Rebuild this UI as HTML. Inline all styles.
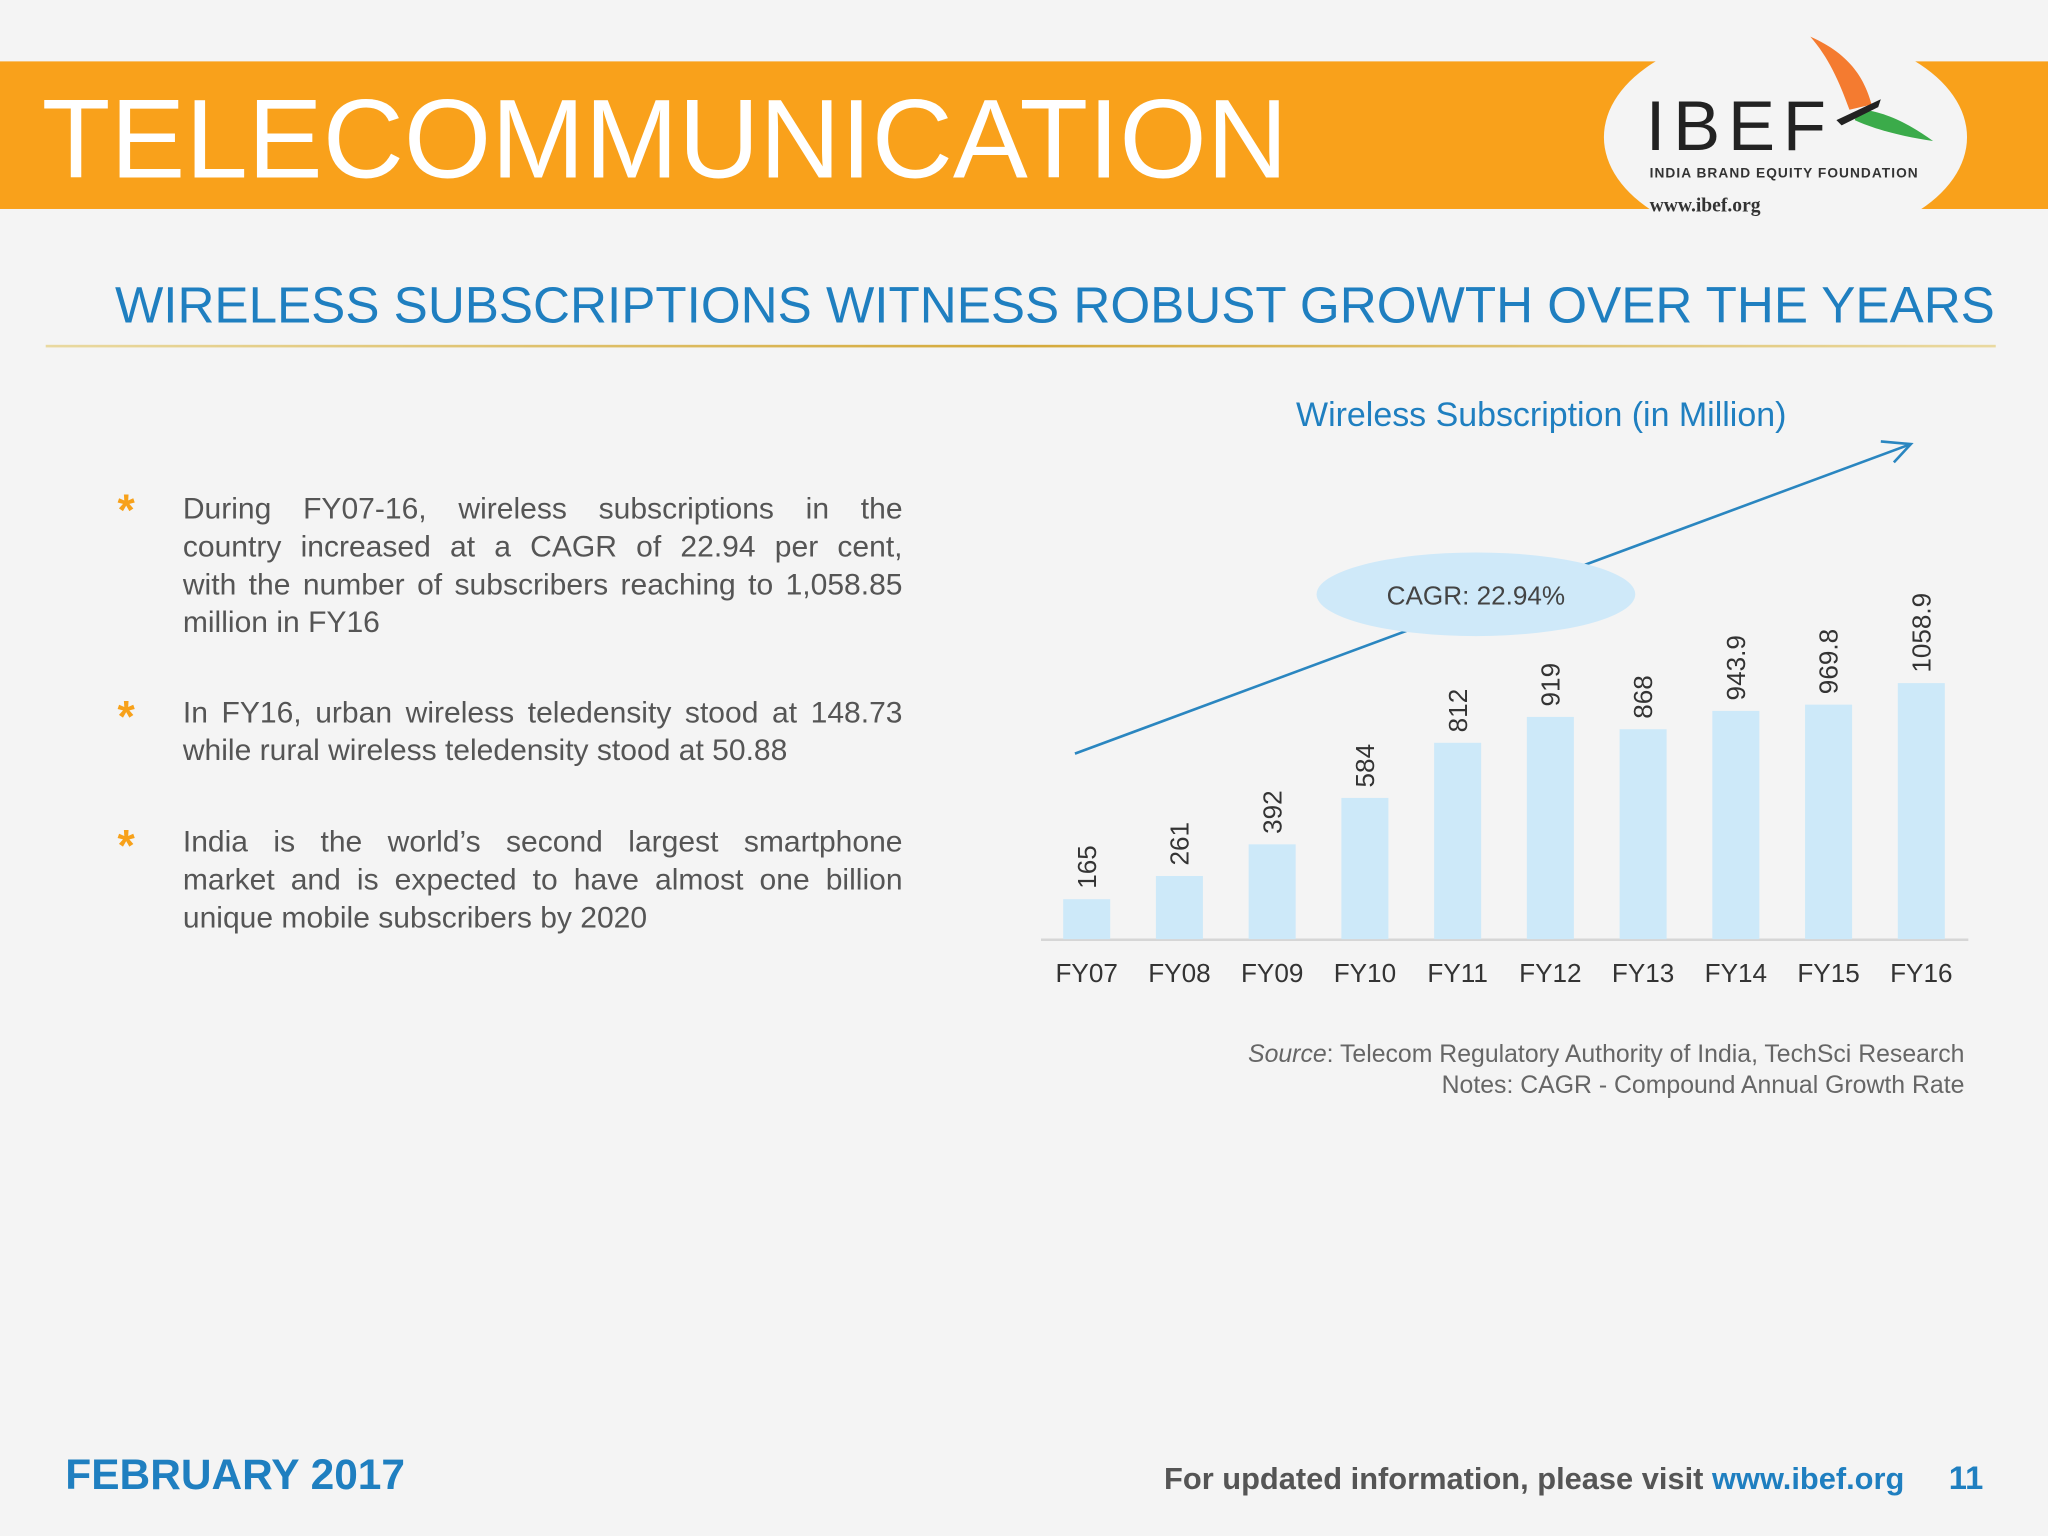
<!DOCTYPE html>
<html><head><meta charset="utf-8">
<style>
html,body{margin:0;padding:0;width:2048px;height:1536px;overflow:hidden;background:#f4f4f4;}
#stage{position:absolute;left:0;top:0;width:1568px;height:1176px;transform:scale(1.306122);transform-origin:0 0;font-family:"Liberation Sans",sans-serif;}
.abs{position:absolute;}
.bullet{position:absolute;left:140px;width:551px;font-size:23px;line-height:29px;color:#555;}
.bullet span{display:block;text-align:justify;text-align-last:justify;white-space:nowrap;}
.bullet span.last{text-align-last:left;}
.star{position:absolute;left:90px;font-size:34px;color:#f7a11a;font-weight:bold;}
</style></head>
<body>
<div id="stage">
  <div class="abs" style="left:0;top:47px;width:1568px;height:113px;background:#f9a11b;"></div>
  <div class="abs" style="left:1228px;top:22px;width:278px;height:166px;border-radius:50%;background:#f4f4f4;"></div>
  <div class="abs" style="left:32px;top:59px;font-size:86px;color:#fff;line-height:96px;">TELECOMMUNICATION</div>
  <svg class="abs" style="left:1228px;top:22px" width="280" height="166" viewBox="0 0 280 166">
    <path d="M158 6 C190 20 200 40 205 58 L188 62 C180 40 172 22 158 6Z" fill="#f47b30"/>
    <path d="M195 62 C210 62 230 70 252 86 C225 82 205 76 192 70Z" fill="#3bab4a"/>
    <path d="M178 70 L212 54 L210 60 L182 74Z" fill="#222"/>
    <text x="32" y="93" font-family="Liberation Sans" font-size="54" letter-spacing="6" fill="#222">IBEF</text>
    <text x="35" y="114" font-family="Liberation Sans" font-size="10.5" font-weight="bold" letter-spacing="0.8" fill="#333">INDIA BRAND EQUITY FOUNDATION</text>
    <text x="35" y="140" font-family="Liberation Serif" font-size="15" font-weight="bold" fill="#333">www.ibef.org</text>
  </svg>
  <div class="abs" style="left:88px;top:213px;font-size:39.2px;color:#1f7fc0;line-height:44px;white-space:nowrap;">WIRELESS SUBSCRIPTIONS WITNESS ROBUST GROWTH OVER THE YEARS</div>
  <div class="abs" style="left:35px;top:264px;width:1493px;height:2px;background:linear-gradient(90deg,#e9d9a0,#d4a93a 50%,#e9d9a0);"></div>

  <div class="star" style="top:372px">*</div>
  <div class="bullet" style="top:375px"><span>During FY07-16, wireless subscriptions in the</span><span>country increased at a CAGR of 22.94 per cent,</span><span>with the number of subscribers reaching to 1,058.85</span><span class="last">million in FY16</span></div>
  <div class="star" style="top:530px">*</div>
  <div class="bullet" style="top:531px"><span>In FY16, urban wireless teledensity stood at 148.73</span><span class="last">while rural wireless teledensity stood at 50.88</span></div>
  <div class="star" style="top:629px">*</div>
  <div class="bullet" style="top:630px"><span>India is the world’s second largest smartphone</span><span>market and is expected to have almost one billion</span><span class="last">unique mobile subscribers by 2020</span></div>

  <svg class="abs" id="chart" style="left:0;top:0" width="1568" height="1176">
    <text x="1180" y="326" text-anchor="middle" font-size="26" fill="#1f7fc0" font-family="Liberation Sans">Wireless Subscription (in Million)</text>
    <line x1="797" y1="719.5" x2="1507" y2="719.5" stroke="#d6d6d6" stroke-width="2"/>
    <g id="bars"></g>
    <line x1="823" y1="577" x2="1463" y2="340" stroke="#2a86c0" stroke-width="2"/>
    <polyline points="1440,338 1463,340 1450,354" fill="none" stroke="#2a86c0" stroke-width="2"/>
    <ellipse cx="1130" cy="455" rx="122" ry="32" fill="#cfe9f9"/>
    <text x="1130" y="463" text-anchor="middle" font-size="20" fill="#444" font-family="Liberation Sans">CAGR: 22.94%</text>
  </svg>

  <div class="abs" style="right:64px;top:796px;text-align:right;font-size:19px;line-height:24px;color:#666;"><i>Source</i>: Telecom Regulatory Authority of India, TechSci Research<br>Notes: CAGR - Compound Annual Growth Rate</div>

  <div class="abs" style="left:50px;top:1111px;font-size:32.5px;font-weight:bold;color:#1f7fc0;">FEBRUARY 2017</div>
  <div class="abs" style="right:110px;top:1120px;font-size:23.6px;font-weight:bold;color:#555;">For updated information, please visit <span style="color:#1f7fc0">www.ibef.org</span></div>
  <div class="abs" style="left:1492px;top:1118px;font-size:25px;font-weight:bold;color:#1f7fc0;">11</div>
</div>
<script>
const categories = ["FY07","FY08","FY09","FY10","FY11","FY12","FY13","FY14","FY15","FY16"];
const values = [165,261,392,584,812,919,868,943.9,969.8,1058.9];
const valueLabels = ["165","261","392","584","812","919","868","943.9","969.8","1058.9"];

const NS = "http://www.w3.org/2000/svg";
const baseY = 719, x0 = 832, step = 71, bw = 36;
const yScale = v => baseY - v * (196 / 1058.9);
const xScale = i => x0 + i * step;
const g = document.getElementById('bars');
categories.forEach((c, i) => {
  const cx = xScale(i), top = yScale(values[i]);
  const r = document.createElementNS(NS, 'rect');
  r.setAttribute('x', cx - bw / 2); r.setAttribute('y', top);
  r.setAttribute('width', bw); r.setAttribute('height', baseY - top);
  r.setAttribute('fill', '#cde9f9');
  
  
  g.appendChild(r);
  const t = document.createElementNS(NS, 'text');
  t.setAttribute('transform', 'translate(' + (cx + 7) + ',' + (top - 8) + ') rotate(-90)');
  t.setAttribute('font-size', '20'); t.setAttribute('fill', '#333');
  t.setAttribute('font-family', 'Liberation Sans');
  t.textContent = valueLabels[i];
  
  
  g.appendChild(t);
  const xl = document.createElementNS(NS, 'text');
  xl.setAttribute('x', cx); xl.setAttribute('y', 752);
  xl.setAttribute('text-anchor', 'middle'); xl.setAttribute('font-size', '20');
  xl.setAttribute('fill', '#333'); xl.setAttribute('font-family', 'Liberation Sans');
  xl.textContent = c;
  
  
  g.appendChild(xl);
});
</script>
</body></html>
